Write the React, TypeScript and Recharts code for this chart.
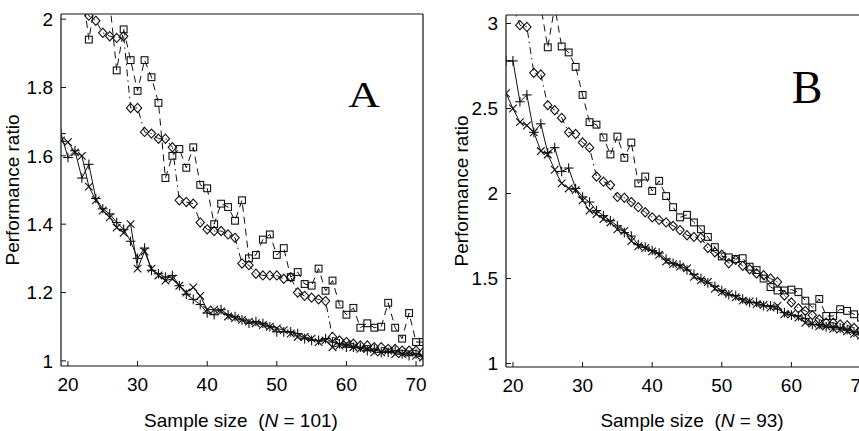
import React from 'react';
import { LineChart, Line, XAxis, YAxis } from 'recharts';

// ---------- data ----------
const sampleSizes = [19, 20, 21, 22, 23, 24, 25, 26, 27, 28, 29, 30, 31, 32, 33, 34, 35, 36, 37, 38, 39, 40, 41, 42, 43, 44, 45, 46, 47, 48, 49, 50, 51, 52, 53, 54, 55, 56, 57, 58, 59, 60, 61, 62, 63, 64, 65, 66, 67, 68, 69, 70, 71];
const xTicks = [20, 30, 40, 50, 60, 70];
const yTicksA = [1, 1.2, 1.4, 1.6, 1.8, 2];
const yTicksB = [1, 1.5, 2, 2.5, 3];

// Panel A (N = 101)
const aCross = [1.645, 1.64, 1.61, 1.6, 1.51, 1.47, 1.44, 1.42, 1.39, 1.375, 1.4, 1.27, 1.32, 1.27, 1.25, 1.235, 1.24, 1.22, 1.2, 1.215, 1.19, 1.15, 1.15, 1.145, 1.13, 1.125, 1.12, 1.115, 1.11, 1.105, 1.1, 1.095, 1.09, 1.08, 1.07, 1.07, 1.065, 1.055, 1.06, 1.04, 1.045, 1.05, 1.04, 1.035, 1.035, 1.025, 1.025, 1.03, 1.02, 1.02, 1.025, 1.015, 1.01];
const aPlus = [1.665, 1.595, 1.615, 1.535, 1.575, 1.475, 1.445, 1.43, 1.405, 1.385, 1.35, 1.3, 1.33, 1.265, 1.255, 1.245, 1.25, 1.22, 1.195, 1.18, 1.165, 1.14, 1.135, 1.15, 1.135, 1.13, 1.12, 1.11, 1.115, 1.11, 1.1, 1.085, 1.085, 1.085, 1.08, 1.065, 1.06, 1.06, 1.065, 1.055, 1.05, 1.04, 1.04, 1.04, 1.03, 1.035, 1.025, 1.025, 1.03, 1.02, 1.015, 1.02, 1.015];
const aDiamond = [2.35, 2.2, 2.12, 2.05, 2.01, 1.995, 1.96, 1.95, 1.945, 1.95, 1.74, 1.74, 1.67, 1.665, 1.65, 1.65, 1.625, 1.47, 1.465, 1.46, 1.405, 1.385, 1.38, 1.38, 1.37, 1.36, 1.285, 1.28, 1.255, 1.25, 1.25, 1.25, 1.24, 1.245, 1.2, 1.19, 1.185, 1.18, 1.175, 1.07, 1.06, 1.055, 1.05, 1.045, 1.045, 1.04, 1.04, 1.035, 1.035, 1.03, 1.03, 1.03, 1.025];
const aSquare = [2.3, 2.25, 2.2, 2.1, 1.94, 2.06, 2.1, 2.05, 1.85, 1.97, 1.88, 1.79, 1.88, 1.83, 1.755, 1.535, 1.6, 1.62, 1.565, 1.625, 1.515, 1.505, 1.4, 1.46, 1.45, 1.41, 1.47, 1.3, 1.31, 1.355, 1.37, 1.31, 1.33, 1.245, 1.26, 1.225, 1.22, 1.27, 1.205, 1.235, 1.165, 1.135, 1.155, 1.097, 1.11, 1.097, 1.1, 1.17, 1.097, 1.065, 1.14, 1.055, 1.055];

// Panel B (N = 93)
const bCross = [2.59, 2.5, 2.42, 2.4, 2.36, 2.25, 2.23, 2.14, 2.06, 2.03, 2.02, 1.96, 1.9, 1.88, 1.85, 1.83, 1.79, 1.78, 1.72, 1.69, 1.68, 1.66, 1.64, 1.6, 1.585, 1.57, 1.56, 1.51, 1.49, 1.48, 1.44, 1.42, 1.41, 1.39, 1.37, 1.365, 1.35, 1.345, 1.33, 1.34, 1.29, 1.29, 1.27, 1.24, 1.235, 1.22, 1.22, 1.205, 1.2, 1.19, 1.175, 1.165, 1.155];
const bPlus = [2.78, 2.78, 2.54, 2.58, 2.36, 2.41, 2.24, 2.27, 2.13, 2.15, 2.03, 1.98, 1.95, 1.9, 1.87, 1.84, 1.81, 1.77, 1.75, 1.7, 1.685, 1.665, 1.65, 1.615, 1.59, 1.58, 1.55, 1.525, 1.5, 1.475, 1.455, 1.43, 1.405, 1.4, 1.38, 1.36, 1.36, 1.34, 1.34, 1.32, 1.3, 1.285, 1.28, 1.265, 1.23, 1.23, 1.215, 1.215, 1.21, 1.2, 1.185, 1.17, 1.165];
const bDiamond = [3.2, 3.1, 2.99, 2.98, 2.71, 2.7, 2.52, 2.49, 2.445, 2.36, 2.35, 2.3, 2.27, 2.1, 2.07, 2.05, 1.98, 1.975, 1.95, 1.92, 1.89, 1.86, 1.845, 1.83, 1.81, 1.785, 1.755, 1.745, 1.74, 1.68, 1.655, 1.64, 1.59, 1.61, 1.575, 1.555, 1.53, 1.52, 1.5, 1.48, 1.4, 1.36, 1.325, 1.31, 1.285, 1.26, 1.24, 1.24, 1.23, 1.225, 1.21, 1.2, 1.19];
const bSquare = [3.3, 3.2, 3.1, 3.15, 3.1, 3.1, 2.86, 3.1, 2.865, 2.83, 2.745, 2.58, 2.42, 2.405, 2.33, 2.23, 2.335, 2.21, 2.3, 2.06, 2.1, 2.015, 2.075, 1.985, 1.92, 1.86, 1.875, 1.83, 1.79, 1.745, 1.685, 1.63, 1.625, 1.615, 1.62, 1.57, 1.55, 1.5, 1.45, 1.43, 1.43, 1.435, 1.42, 1.37, 1.33, 1.38, 1.28, 1.28, 1.32, 1.31, 1.29, 1.27, 1.25];

const buildRows = (cross: number[], plus: number[], diamond: number[], square: number[]) =>
  sampleSizes.map((n, i) => ({ n, cross: cross[i], plus: plus[i], diamond: diamond[i], square: square[i] }));

const rowsA = buildRows(aCross, aPlus, aDiamond, aSquare);
const rowsB = buildRows(bCross, bPlus, bDiamond, bSquare);

// ---------- styling ----------
const INK = '#111';
const SANS = '"Liberation Sans", Arial, Helvetica, sans-serif';
const SERIF = '"Liberation Serif", "Times New Roman", serif';
const tickStyle = { fontSize: 19, fill: '#000', fontFamily: SANS };

type Kind = 'cross' | 'plus' | 'diamond' | 'square';

const makeDot = (kind: Kind) => (p: any) => {
  const { cx, cy, index } = p;
  const key = `${kind}-${index}`;
  if (cx == null || cy == null || Number.isNaN(cx) || Number.isNaN(cy)) return <g key={key} />;
  const sp = { stroke: INK, strokeWidth: 1.1, fill: 'none' };
  if (kind === 'cross') {
    const r = 3.8;
    return (
      <g key={key}>
        <line x1={cx - r} y1={cy - r} x2={cx + r} y2={cy + r} {...sp} />
        <line x1={cx - r} y1={cy + r} x2={cx + r} y2={cy - r} {...sp} />
      </g>
    );
  }
  if (kind === 'plus') {
    const r = 4.8;
    return (
      <g key={key}>
        <line x1={cx - r} y1={cy} x2={cx + r} y2={cy} {...sp} />
        <line x1={cx} y1={cy - r} x2={cx} y2={cy + r} {...sp} />
      </g>
    );
  }
  if (kind === 'diamond') {
    return (
      <polygon key={key} points={`${cx},${cy - 4.6} ${cx + 4.2},${cy} ${cx},${cy + 4.6} ${cx - 4.2},${cy}`} {...sp} />
    );
  }
  return <rect key={key} x={cx - 3.4} y={cy - 3.4} width={6.8} height={6.8} {...sp} />;
};

const fmtA = (v: number) => (v === 1 || v === 2 ? String(v) : v.toFixed(1));
const fmtB = (v: number) => (Number.isInteger(v) ? String(v) : v.toFixed(1));

function Panel(props: {
  rows: any[];
  left: number;
  width: number;
  margin: { top: number; left: number; right: number; bottom: number };
  yDomain: [number, number];
  yTicks: number[];
  fmt: (v: number) => string;
}) {
  const { rows, left, width, margin, yDomain, yTicks, fmt } = props;
  const axisLine = { stroke: INK, strokeWidth: 1.2 };
  const tickLine = { stroke: INK, strokeWidth: 1 };
  return (
    <div style={{ position: 'absolute', left, top: 0 }}>
      <LineChart width={width} height={431} data={rows} margin={margin}>
        <XAxis
          dataKey="n"
          type="number"
          domain={[19, 71]}
          allowDataOverflow
          ticks={xTicks}
          interval={0}
          height={1}
          tickSize={-5}
          tickMargin={17}
          tick={tickStyle}
          axisLine={axisLine}
          tickLine={tickLine}
        />
        <XAxis
          xAxisId="top"
          orientation="top"
          type="number"
          domain={[19, 71]}
          allowDataOverflow
          ticks={xTicks}
          interval={0}
          height={1}
          tickSize={-5}
          tick={false}
          axisLine={axisLine}
          tickLine={tickLine}
        />
        <YAxis
          type="number"
          domain={yDomain}
          allowDataOverflow
          ticks={yTicks}
          interval={0}
          width={1}
          tickSize={-5}
          tickMargin={13}
          tick={tickStyle}
          tickFormatter={fmt}
          axisLine={axisLine}
          tickLine={tickLine}
        />
        <YAxis
          yAxisId="right"
          orientation="right"
          type="number"
          domain={yDomain}
          allowDataOverflow
          ticks={yTicks}
          interval={0}
          width={1}
          tickSize={-5}
          tick={false}
          axisLine={axisLine}
          tickLine={tickLine}
        />
        <Line type="linear" dataKey="square" stroke={INK} strokeWidth={1} strokeDasharray="7 5" dot={makeDot('square')} activeDot={false} isAnimationActive={false} />
        <Line type="linear" dataKey="diamond" stroke={INK} strokeWidth={1} strokeDasharray="7 4 1.5 4" dot={makeDot('diamond')} activeDot={false} isAnimationActive={false} />
        <Line type="linear" dataKey="plus" stroke={INK} strokeWidth={1} dot={makeDot('plus')} activeDot={false} isAnimationActive={false} />
        <Line type="linear" dataKey="cross" stroke={INK} strokeWidth={1} dot={makeDot('cross')} activeDot={false} isAnimationActive={false} />
      </LineChart>
    </div>
  );
}

export default function App() {
  return (
    <div style={{ position: 'absolute', left: 0, top: 0, width: 859, height: 431, overflow: 'hidden', background: '#fff' }}>
      <Panel
        rows={rowsA}
        left={0}
        width={430}
        margin={{ top: 13, left: 60, right: 6, bottom: 64 }}
        yDomain={[0.985, 2.015]}
        yTicks={yTicksA}
        fmt={fmtA}
      />
      <Panel
        rows={rowsB}
        left={430}
        width={450}
        margin={{ top: 14, left: 75, right: 11, bottom: 63 }}
        yDomain={[0.98, 3.05]}
        yTicks={yTicksB}
        fmt={fmtB}
      />
      <svg width={859} height={431} style={{ position: 'absolute', left: 0, top: 0, pointerEvents: 'none' }}>
        <text transform="translate(18.5,190) rotate(-90)" textAnchor="middle" fontFamily={SANS} fontSize={19} fill="#000">
          Performance ratio
        </text>
        <text transform="translate(468,191) rotate(-90)" textAnchor="middle" fontFamily={SANS} fontSize={19} fill="#000">
          Performance ratio
        </text>
        <text x={241} y={427} textAnchor="middle" fontFamily={SANS} fontSize={19} fill="#000" style={{ whiteSpace: 'pre' }}>
          {'Sample size  ('}
          <tspan fontStyle="italic">N</tspan>
          {' = 101)'}
        </text>
        <text x={692} y={427} textAnchor="middle" fontFamily={SANS} fontSize={19} fill="#000" style={{ whiteSpace: 'pre' }}>
          {'Sample size  ('}
          <tspan fontStyle="italic">N</tspan>
          {' = 93)'}
        </text>
        <text transform="translate(364,107) scale(1.25,1)" textAnchor="middle" fontFamily={SERIF} fontSize={35} fill="#000">
          A
        </text>
        <text x={807} y={103} textAnchor="middle" fontFamily={SERIF} fontSize={46} fill="#000">
          B
        </text>
      </svg>
    </div>
  );
}
